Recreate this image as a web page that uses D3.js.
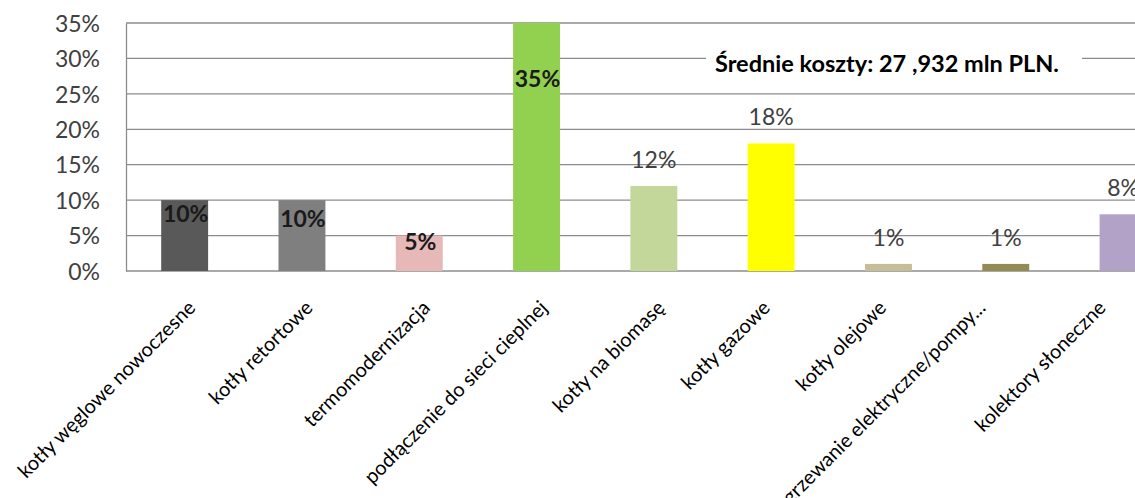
<!DOCTYPE html>
<html><head><meta charset="utf-8">
<script src="https://cdn.jsdelivr.net/npm/d3@7"></script>
<style>
html,body{margin:0;padding:0;background:#fff;overflow:hidden;}
text{font-family:Lato,"Open Sans",sans-serif;}
</style></head>
<body><svg id="c" width="1135" height="498"></svg>
<script>
const categories = ["kotły węglowe nowoczesne","kotły retortowe","termomodernizacja","podłączenie do sieci cieplnej","kotły na biomasę","kotły gazowe","kotły olejowe","ogrzewanie elektryczne/pompy...","kolektory słoneczne"];
const values = [10,10,5,35,12,18,1,1,8];
const valueLabels = ["10%","10%","5%","35%","12%","18%","1%","1%","8%"];
const labelInside = [true,true,true,true,false,false,false,false,false];
const colors = ["#595959","#7f7f7f","#e6b9b8","#92d050","#c4d79b","#ffff00","#c4bd97","#948a54","#b3a2c7"];
const yTicks = [0,5,10,15,20,25,30,35];
const yTickLabels = ["0%","5%","10%","15%","20%","25%","30%","35%"];
const annotation = "Średnie koszty: 27 ,932 mln PLN.";

(function(){
const svg = d3.select("#c");
const mLeft = 126, mTop = 23, mBottom = 271, step = 117.3;
const x = d3.scaleBand().domain(categories).range([mLeft, mLeft + step*categories.length]).paddingInner(0.6).paddingOuter(0.3);
const y = d3.scaleLinear().domain([0,35]).range([mBottom, mTop]);
const gridColor = "#8c8c8c";

svg.append("g").selectAll("line").data(yTicks.filter(d=>d>0)).join("line")
  .attr("x1", mLeft).attr("x2", 1135).attr("y1", d=>y(d)).attr("y2", d=>y(d))
  .attr("stroke", gridColor).attr("stroke-width", 1.3);

const yAxis = svg.append("g").attr("transform",`translate(${mLeft},0)`)
  .call(d3.axisLeft(y).tickValues(yTicks).tickFormat((d,i)=>yTickLabels[i]).tickSize(0).tickPadding(26));
yAxis.select(".domain").attr("stroke", gridColor).attr("stroke-width",1.3);
yAxis.selectAll("text").attr("font-size", 23).attr("fill","#404040").attr("font-family","Lato").attr("dy","0.36em");

svg.append("line").attr("x1",mLeft).attr("x2",1135).attr("y1",mBottom).attr("y2",mBottom)
  .attr("stroke",gridColor).attr("stroke-width",1.3);

const ann = svg.append("g");
ann.append("rect").attr("x",706).attr("y",44).attr("width",376).attr("height",36).attr("fill","#fff");
ann.append("text").attr("x",715).attr("y",72).attr("font-size",23.5).attr("font-weight","bold").attr("fill","#000").text(annotation);

svg.append("g").selectAll("rect").data(values).join("rect")
  .attr("x",(d,i)=>x(categories[i])).attr("width",x.bandwidth())
  .attr("y",d=>y(d)).attr("height",d=>mBottom-y(d))
  .attr("fill",(d,i)=>colors[i]);

const insideOffsets = [22,27,14,64];
svg.append("g").selectAll("text").data(values).join("text")
  .attr("x",(d,i)=>x(categories[i])+x.bandwidth()/2 + (labelInside[i]?1:0))
  .attr("y",(d,i)=> labelInside[i] ? y(d)+insideOffsets[i] : y(d)-18)
  .attr("text-anchor","middle")
  .attr("font-size",23)
  .attr("font-weight",(d,i)=>labelInside[i]?"bold":"normal")
  .attr("fill",(d,i)=>labelInside[i]?"#1a1a1a":"#404040")
  .text((d,i)=>valueLabels[i]);

const labelShift = [0,0,0,0,0,-12,-13,-31,-28];
svg.append("g").selectAll("text").data(categories).join("text")
  .attr("transform",(d,i)=>`translate(${x(d)+x.bandwidth()/2+12+labelShift[i]},${309}) rotate(-45)`)
  .attr("text-anchor","end")
  .attr("font-size",20)
  .attr("fill","#000")
  .text(d=>d);
})();
</script></body></html>
